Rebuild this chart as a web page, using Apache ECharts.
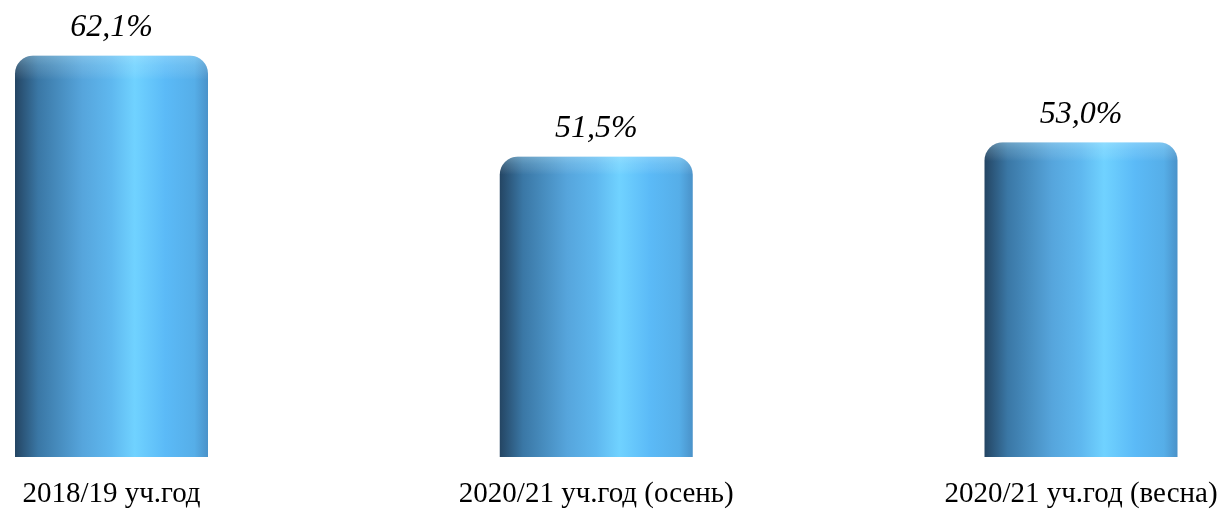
<!DOCTYPE html>
<html><head><meta charset="utf-8">
<style>html,body{margin:0;padding:0;background:#fff}#c{width:1222px;height:512px}</style>
<script src="https://cdn.jsdelivr.net/npm/echarts@6/dist/echarts.min.js"></script>
</head><body><div id="c"></div>
<script>
const categories = ['2018/19 уч.год', '2020/21 уч.год (осень)', '2020/21 уч.год (весна)'];
const values = [62.1, 51.5, 53.0];

const chart = echarts.init(document.getElementById('c'), null, {renderer: 'canvas'});
const bodyGrad = new echarts.graphic.LinearGradient(0, 0, 1, 0, [
  {offset: 0, color: '#244563'},
  {offset: 0.12, color: '#3a77a5'},
  {offset: 0.35, color: '#56a5dc'},
  {offset: 0.5, color: '#5fb8ef'},
  {offset: 0.62, color: '#70d2ff'},
  {offset: 0.78, color: '#5bbaf7'},
  {offset: 0.93, color: '#56aee8'},
  {offset: 1, color: '#4a92c9'}
]);
const fmt = v => v.toFixed(1).replace('.', ',') + '%';
chart.setOption({
  animation: false,
  grid: {left: 111.5, right: 141, top: 28, bottom: 55, containLabel: false},
  xAxis: {
    type: 'category', data: categories, boundaryGap: false,
    axisLine: {show: false}, axisTick: {show: false},
    axisLabel: {fontFamily: 'Liberation Serif', fontSize: 29, color: '#000', margin: 23, interval: 0}
  },
  yAxis: {type: 'value', min: 20, max: 65, show: false, splitLine: {show: false}},
  series: [{
    type: 'bar', data: values, barWidth: 193,
    itemStyle: {color: bodyGrad, borderRadius: [18, 18, 0, 0]},
    label: {show: true, position: 'top', distance: 12, formatter: p => fmt(p.value),
      fontFamily: 'Liberation Serif', fontStyle: 'italic', fontSize: 32, color: '#000'}
  }, {
    type: 'bar', data: values, barWidth: 193, barGap: '-100%', silent: true,
    itemStyle: {
      color: new echarts.graphic.LinearGradient(0, 0, 0, 1, [
        {offset: 0, color: 'rgba(200,240,255,0.35)'},
        {offset: 0.025, color: 'rgba(200,240,255,0.18)'},
        {offset: 0.06, color: 'rgba(255,255,255,0)'},
        {offset: 1, color: 'rgba(255,255,255,0)'}
      ]),
      borderRadius: [18, 18, 0, 0]
    }
  }]
});
</script></body></html>
